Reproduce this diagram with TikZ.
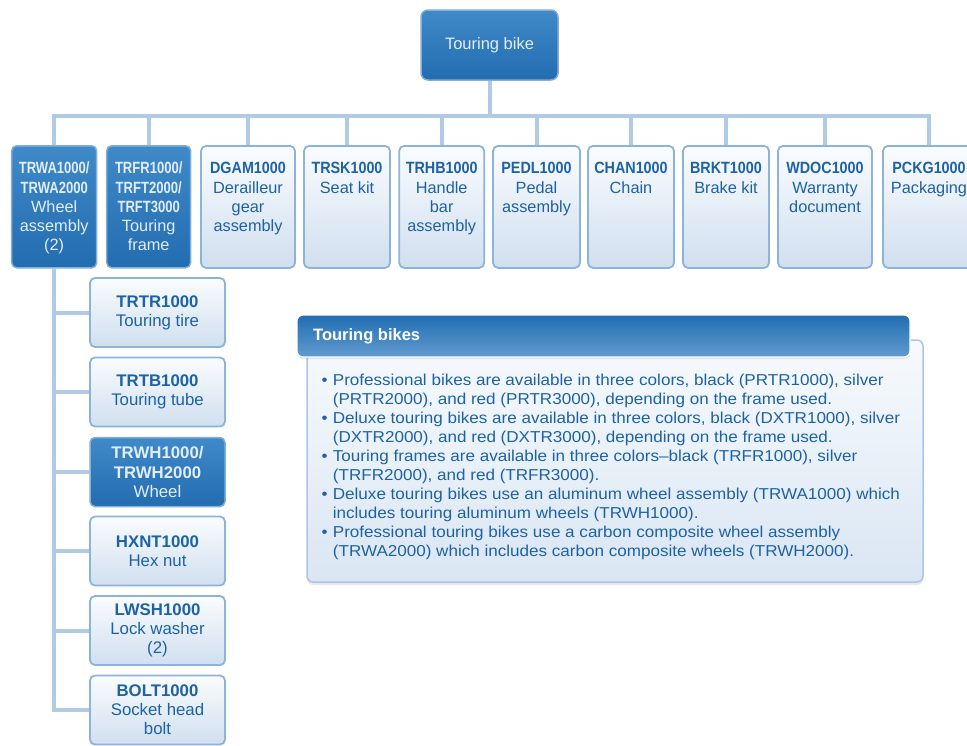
\documentclass[tikz,border=0pt]{standalone}
\usepackage{fontspec}
\setmainfont{Liberation Sans}
\newfontfamily\rowcodefont{Liberation Sans}[FakeStretch=0.88]
\newfontfamily\darkcodefont{Liberation Sans}[FakeStretch=0.80]
\newfontfamily\notefont{Liberation Sans}[FakeStretch=1.08]
\usetikzlibrary{shadows,backgrounds}

\definecolor{connblue}{RGB}{178,203,229}
\definecolor{ink}{RGB}{29,98,164}
\definecolor{lightedge}{RGB}{140,179,217}
\definecolor{lighttop}{RGB}{250,252,254}
\definecolor{lightbot}{RGB}{208,223,239}
\definecolor{darktop}{RGB}{64,138,201}
\definecolor{darkbot}{RGB}{34,108,176}
\definecolor{darkedge}{RGB}{130,174,216}
\definecolor{headtop}{RGB}{32,110,178}
\definecolor{headbot}{RGB}{98,154,206}
\definecolor{paletext}{RGB}{226,237,248}
\definecolor{notetop}{RGB}{247,250,253}
\definecolor{notebot}{RGB}{218,230,243}
\definecolor{noteedge}{RGB}{170,198,228}

\newcommand\rowcode[1]{{\rowcodefont\bfseries #1}}
\newcommand\darkcode[1]{{\darkcodefont\bfseries #1}}
\newcommand\colcode[1]{{\bfseries #1}}
% top-aligned centred stack: its baseline is the first line's
\newcommand\topstack[1]{\vtop{\let\\\cr\halign{\hfil##\hfil\cr#1\crcr}}}
\newcommand\bulletline[1]{\makebox[11.2pt][l]{\textbullet}#1}
\newcommand\hangline[1]{\hspace*{11.2pt}#1}

\tikzset{
  conn/.style={draw=connblue, line width=4pt},
  lightbox/.style={draw=lightedge, line width=1.8pt, rounded corners=5pt,
    top color=lighttop, bottom color=lightbot, text=ink, inner sep=0pt},
  darkbox/.style={draw=darkedge, line width=1.5pt, rounded corners=5pt,
    top color=darktop, bottom color=darkbot, text=paletext, inner sep=0pt},
  rowbox/.style={anchor=north, text height=28pt, text depth=94pt,
    font=\fontsize{16.3}{19.3}\selectfont},
  colbox/.style={align=center, minimum width=135pt, minimum height=69pt,
    font=\fontsize{16.8}{19.2}\selectfont},
}

\begin{document}
\begin{tikzpicture}[x=1pt,y=-1pt]
\useasboundingbox (0,0) rectangle (967,745);

% root
\node[darkbox, rounded corners=7pt, minimum width=137pt, minimum height=70pt,
      font=\fontsize{16.5}{19}\selectfont] (bike) at (489.5,45) {Touring bike};

% first level
\node[darkbox,rowbox,minimum width=85pt] (trwa) at (54.2,145)
  {\topstack{\darkcode{TRWA1000/}\\\darkcode{TRWA2000}\\Wheel\\assembly\\(2)}};
\node[darkbox,rowbox,minimum width=84pt] (trfr) at (148.7,145)
  {\topstack{\darkcode{TRFR1000/}\\\darkcode{TRFT2000/}\\\darkcode{TRFT3000}\\Touring\\frame}};
\node[lightbox,rowbox,minimum width=94pt] (dgam) at (248,145)
  {\topstack{\rowcode{DGAM1000}\\Derailleur\\gear\\assembly}};
\node[lightbox,rowbox,minimum width=86pt] (trsk) at (347,145)
  {\topstack{\rowcode{TRSK1000}\\Seat kit}};
\node[lightbox,rowbox,minimum width=85pt] (trhb) at (441.7,145)
  {\topstack{\rowcode{TRHB1000}\\Handle\\bar\\assembly}};
\node[lightbox,rowbox,minimum width=87pt] (pedl) at (536.5,145)
  {\topstack{\rowcode{PEDL1000}\\Pedal\\assembly}};
\node[lightbox,rowbox,minimum width=86pt] (chan) at (631,145)
  {\topstack{\rowcode{CHAN1000}\\Chain}};
\node[lightbox,rowbox,minimum width=86pt] (brkt) at (726,145)
  {\topstack{\rowcode{BRKT1000}\\Brake kit}};
\node[lightbox,rowbox,minimum width=94pt] (wdoc) at (825,145)
  {\topstack{\rowcode{WDOC1000}\\Warranty\\document}};
\node[lightbox,rowbox,minimum width=92pt] (pckg) at (929,145)
  {\topstack{\rowcode{PCKG1000}\\Packaging}};

% parts of the wheel assembly
\node[lightbox,colbox] (trtr) at (157.5,312.5) {\colcode{TRTR1000}\\Touring tire};
\node[lightbox,colbox] (trtb) at (157.5,392) {\colcode{TRTB1000}\\Touring tube};
\node[darkbox,colbox]  (trwh) at (157.5,472) {\colcode{TRWH1000/}\\\colcode{TRWH2000}\\Wheel};
\node[lightbox,colbox] (hxnt) at (157.5,551) {\colcode{HXNT1000}\\Hex nut};
\node[lightbox,colbox] (lwsh) at (157.5,630.5) {\colcode{LWSH1000}\\Lock washer\\(2)};
\node[lightbox,colbox] (bolt) at (157.5,710) {\colcode{BOLT1000}\\Socket head\\bolt};

% notes panel
\node[draw=noteedge, line width=1.5pt, rounded corners=6pt, top color=notetop,
      bottom color=notebot, minimum width=616pt, minimum height=242pt,
      drop shadow={opacity=0.18, shadow xshift=0pt, shadow yshift=-3pt}]
      (notebody) at (615,461) {};
\node[draw=white, line width=1.2pt, rounded corners=6pt, top color=headtop,
      bottom color=headbot, minimum width=613pt, minimum height=42pt,
      drop shadow={opacity=0.18, shadow xshift=0pt, shadow yshift=-2pt}]
      (notehead) at (603.5,336) {};
\node[anchor=west, text=white, font=\fontsize{16.5}{19}\selectfont\bfseries,
      inner sep=0pt] (notetitle) at (313,336) {Touring bikes};
\node[anchor=base west, text=ink, inner sep=0pt,
      font=\fontsize{15.8}{19.0}\notefont] (notes) at (321.5,385)
  {\parbox[t]{600pt}{\raggedright
   \bulletline{Professional bikes are available in three colors, black (PRTR1000), silver}\\
   \hangline{(PRTR2000), and red (PRTR3000), depending on the frame used.}\\
   \bulletline{Deluxe touring bikes are available in three colors, black (DXTR1000), silver}\\
   \hangline{(DXTR2000), and red (DXTR3000), depending on the frame used.}\\
   \bulletline{Touring frames are available in three colors–black (TRFR1000), silver}\\
   \hangline{(TRFR2000), and red (TRFR3000).}\\
   \bulletline{Deluxe touring bikes use an aluminum wheel assembly (TRWA1000) which}\\
   \hangline{includes touring aluminum wheels (TRWH1000).}\\
   \bulletline{Professional touring bikes use a carbon composite wheel assembly}\\
   \hangline{(TRWA2000) which includes carbon composite wheels (TRWH2000).}}};

% connectors
\begin{scope}[on background layer]
  \coordinate (bus) at (489.5,116);
  \draw[conn] (bike.south) -- (bus);
  \foreach \n in {trwa,trfr,dgam,trsk,trhb,pedl,chan,brkt,wdoc,pckg}
    \draw[conn] (bus) -| (\n.north);
  \foreach \n in {trtr,trtb,trwh,hxnt,lwsh,bolt}
    \draw[conn] (trwa.south) |- (\n.west);
\end{scope}
\end{tikzpicture}
\end{document}
